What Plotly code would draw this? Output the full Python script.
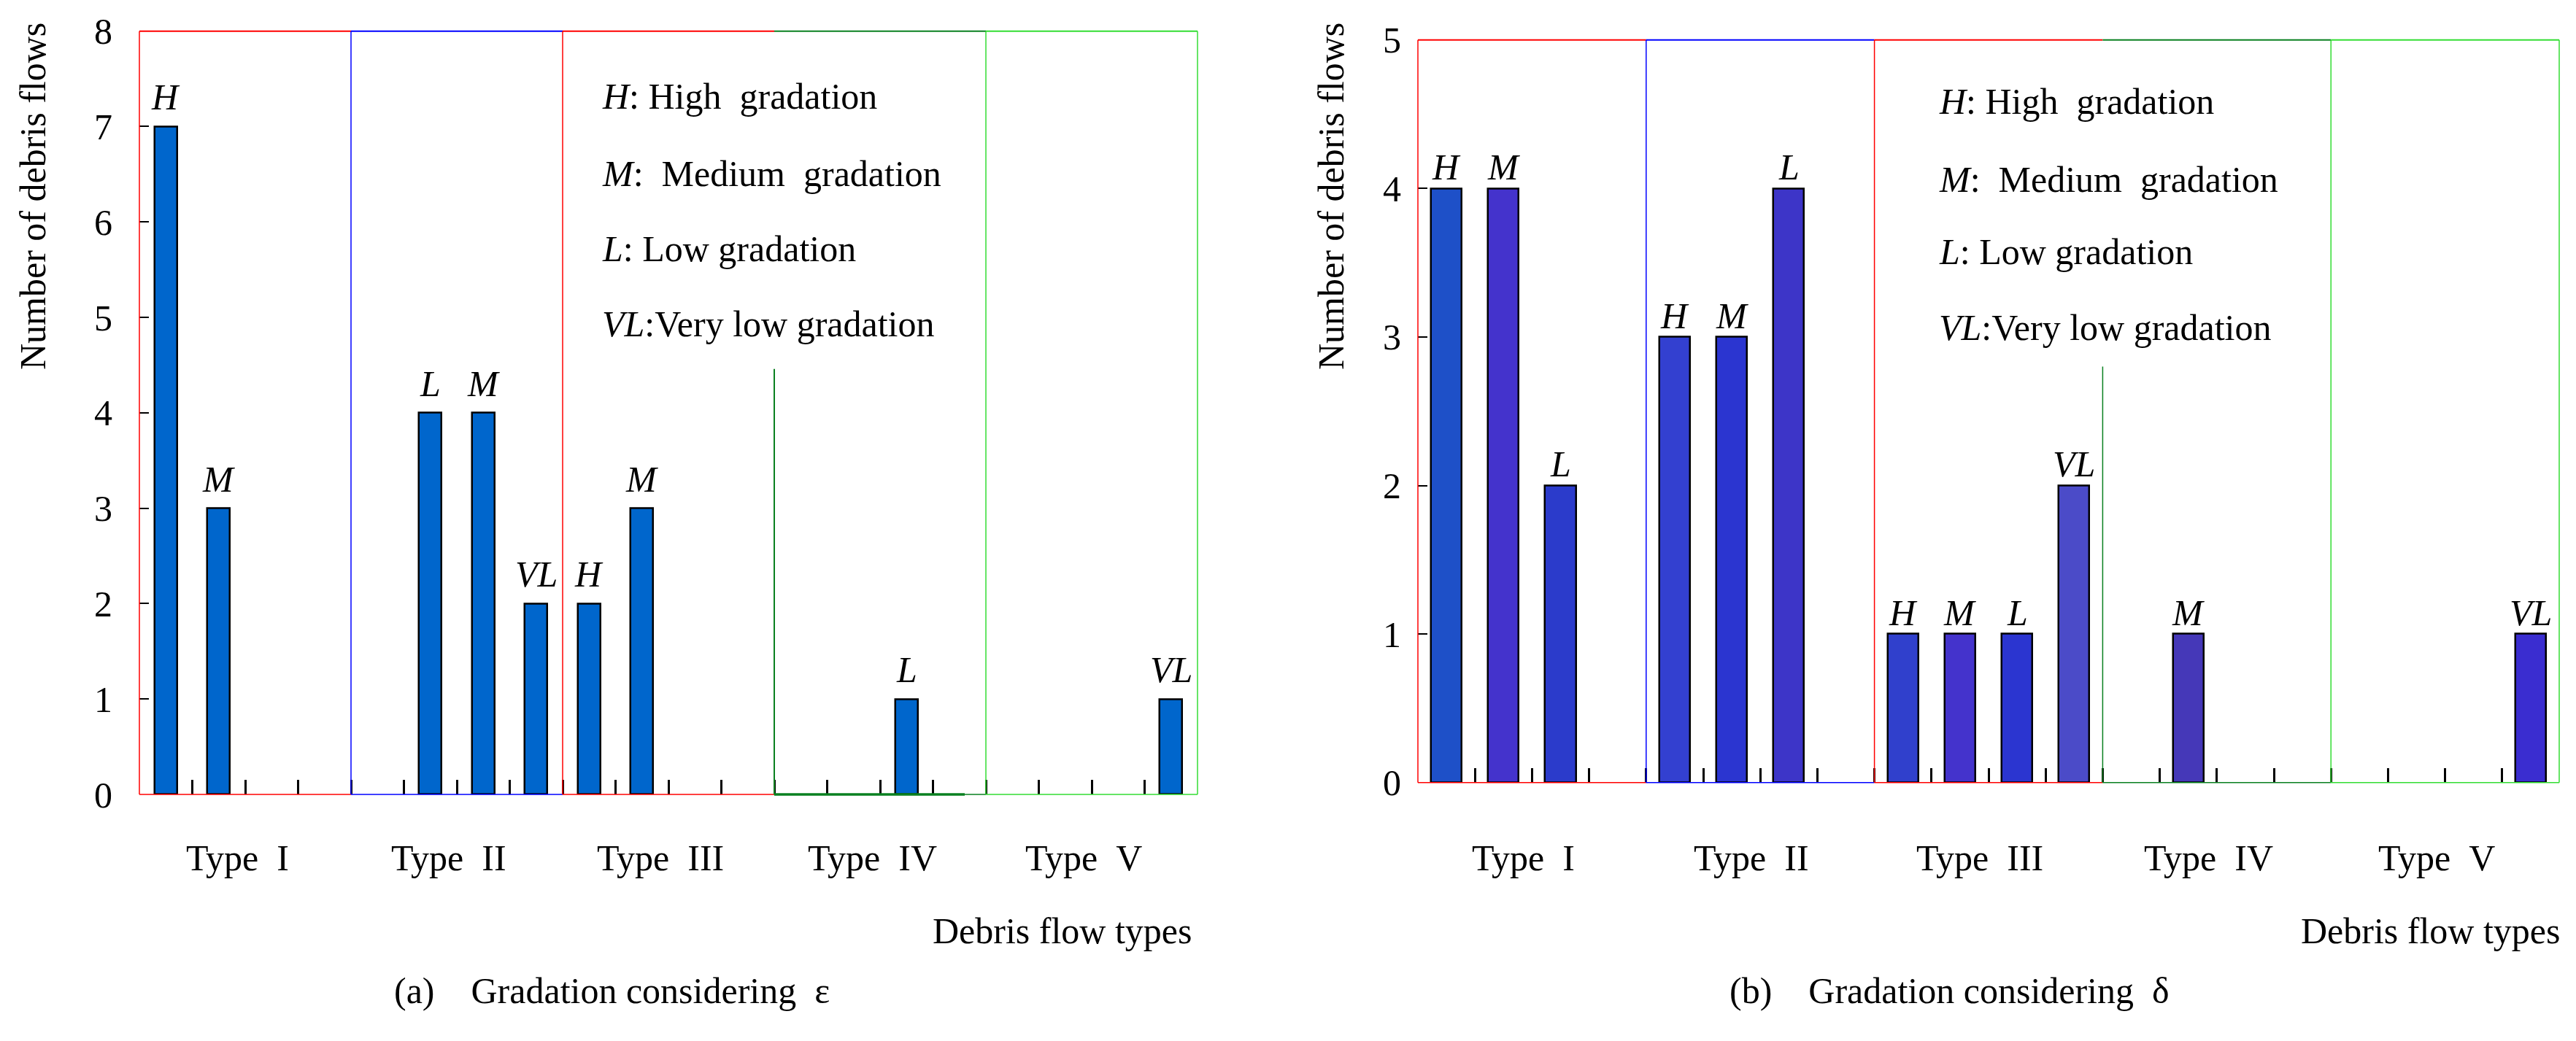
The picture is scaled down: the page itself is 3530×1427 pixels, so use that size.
import plotly.graph_objects as go

# %% data
type_names = ["Type\u00a0\u00a0I", "Type\u00a0\u00a0II", "Type\u00a0\u00a0III", "Type\u00a0\u00a0IV", "Type\u00a0\u00a0V"]
slots_per_type = 4

# (a) gradation considering epsilon: 4 slots per type
eps_counts = [7, 3, 0, 0,
              0, 4, 4, 2,
              2, 3, 0, 0,
              0, 0, 1, 0,
              0, 0, 0, 1]
eps_grades = ["H", "M", "", "",
              "", "L", "M", "VL",
              "H", "M", "", "",
              "", "", "L", "",
              "", "", "", "VL"]

# (b) gradation considering delta
delta_counts = [4, 4, 2, 0,
                3, 3, 4, 0,
                1, 1, 1, 2,
                0, 1, 0, 0,
                0, 0, 0, 1]
delta_grades = ["H", "M", "L", "",
                "H", "M", "L", "",
                "H", "M", "L", "VL",
                "", "M", "", "",
                "", "", "", "VL"]

legend_lines = ["<i>H</i>: High\u00a0 gradation",
                "<i>M</i>:\u00a0 Medium\u00a0 gradation",
                "<i>L</i>: Low gradation",
                "<i>VL</i>:Very low gradation"]

y_title = "Number of debris flows"
x_title = "Debris flow types"
captions = ["(a)\u00a0\u00a0\u00a0 Gradation considering\u00a0 ε",
            "(b)\u00a0\u00a0\u00a0 Gradation considering\u00a0 δ"]

# %% layout helpers (page has 8px body margin)
W, H, OFF = 3514, 1411, 8
FONT = "Liberation Serif"


def px(X):
    return (X - OFF) / W


def py(Y):
    return 1 - (Y - OFF) / H


n_slots = len(eps_counts)
panels = [
    dict(x0=px(191), x1=px(1641), y0=py(1089), y1=py(42.7), ymax=8,
         xa="x", ya="y", title_x=45, legend_x=823,
         legend_y=[132, 238, 341, 444], standoff=36,
         bar_w=0.43, label_shift=10, caption_x=838, x_title_r=1636),
    dict(x0=px(1943), x1=px(3507), y0=py(1072.7), y1=py(54.7), ymax=5,
         xa="x2", ya="y2", title_x=1824, legend_x=2655,
         legend_y=[139, 246, 345, 449], standoff=22,
         bar_w=0.54, label_shift=-1, caption_x=2671, x_title_r=3511),
]


def to_paper(p, s, v):
    return (p["x0"] + s / n_slots * (p["x1"] - p["x0"]),
            p["y0"] + v / p["ymax"] * (p["y1"] - p["y0"]))


fig = go.Figure()


def seg(p, s0, v0, s1, v1, color, width=1.5):
    xa, ya = to_paper(p, s0, v0)
    xb, yb = to_paper(p, s1, v1)
    fig.add_shape(type="line", xref="paper", yref="paper",
                  x0=xa, y0=ya, x1=xb, y1=yb,
                  line=dict(color=color, width=width), layer="above")


RED, BLUE, DGREEN, LGREEN = "#ff0000", "#0000ff", "#0a8020", "#33dd33"

# %% bars
eps_color = "#0066cc"
delta_colors = ["#1e50c8", "#4433cc", "#2b3bcb", None,
                "#3340d0", "#2b35d0", "#3d35c8", None,
                "#3040cc", "#4433cc", "#2b35d0", "#4b4bc8",
                None, "#4538b8", None, None,
                None, None, None, "#3a2dd0"]

for p, counts, grades, colors in [(panels[0], eps_counts, eps_grades, [eps_color] * n_slots),
                                  (panels[1], delta_counts, delta_grades, delta_colors)]:
    xs = [i + 0.5 for i, v in enumerate(counts) if v > 0]
    ys = [v for v in counts if v > 0]
    cs = [colors[i] for i, v in enumerate(counts) if v > 0]
    fig.add_trace(go.Bar(x=xs, y=ys, width=p["bar_w"], xaxis=p["xa"], yaxis=p["ya"],
                         marker=dict(color=cs, line=dict(color="black", width=2.5)),
                         hoverinfo="skip"))
    for x, y, g in zip(xs, ys, [grades[i] for i, v in enumerate(counts) if v > 0]):
        fig.add_annotation(x=x, y=y, xref=p["xa"], yref=p["ya"], text="<i>" + g + "</i>",
                           showarrow=False, xanchor="center", yanchor="bottom",
                           yshift=p["label_shift"], font=dict(family=FONT, size=50))

    # type labels under each block
    for k, name in enumerate(type_names):
        xc, _ = to_paper(p, k * slots_per_type + 2 - 0.15, 0)
        fig.add_annotation(x=xc, y=py(1176), xref="paper", yref="paper", text=name,
                           showarrow=False, xanchor="center", yanchor="middle",
                           font=dict(family=FONT, size=50))

    # legend text block
    for txt, yy in zip(legend_lines, p["legend_y"]):
        fig.add_annotation(x=px(p["legend_x"]), y=py(yy), xref="paper", yref="paper", text=txt,
                           showarrow=False, xanchor="left", yanchor="middle",
                           font=dict(family=FONT, size=50))

    fig.add_annotation(x=px(p["title_x"]), y=py(29), xref="paper", yref="paper", text=y_title,
                       textangle=-90, showarrow=False, xanchor="center", yanchor="top",
                       font=dict(family=FONT, size=50))
    fig.add_annotation(x=px(p["x_title_r"]), y=py(1276), xref="paper", yref="paper", text=x_title,
                       showarrow=False, xanchor="right", yanchor="middle",
                       font=dict(family=FONT, size=50))

for p, cap in zip(panels, captions):
    fig.add_annotation(x=px(p["caption_x"]), y=py(1358), xref="paper", yref="paper", text=cap,
                       showarrow=False, xanchor="center", yanchor="middle",
                       font=dict(family=FONT, size=50))

# %% coloured type boxes
L, R = panels
top8, top5 = 8, 5
# (a)
seg(L, 0, 0, 0, top8, RED); seg(L, 0, top8, 4, top8, RED, 2); seg(L, 0, 0, 4, 0, RED)
seg(L, 4, 0, 4, top8, BLUE); seg(L, 4, top8, 8, top8, BLUE, 2); seg(L, 4, 0, 8, 0, BLUE)
seg(L, 8, 0, 8, top8, RED); seg(L, 8, top8, 12, top8, RED, 2); seg(L, 8, 0, 12, 0, RED)
seg(L, 12, 0, 12, 4.46, DGREEN, 2); seg(L, 12, top8, 16, top8, DGREEN, 2)
seg(L, 12, 0, 15.6, 0, DGREEN, 3.5); seg(L, 15.6, 0, 16, 0, DGREEN)
seg(L, 16, 0, 16, top8, LGREEN); seg(L, 16, top8, 20, top8, LGREEN, 2)
seg(L, 20, 0, 20, top8, LGREEN); seg(L, 16, 0, 20, 0, LGREEN)
# (b)
seg(R, 0, 0, 0, top5, RED); seg(R, 0, top5, 4, top5, RED, 2); seg(R, 0, 0, 4, 0, RED)
seg(R, 4, 0, 4, top5, BLUE); seg(R, 4, top5, 8, top5, BLUE, 2); seg(R, 4, 0, 8, 0, BLUE)
seg(R, 8, 0, 8, top5, RED); seg(R, 8, top5, 12, top5, RED, 2); seg(R, 8, 0, 12, 0, RED)
seg(R, 12, 0, 12, 2.8, DGREEN); seg(R, 12, top5, 16, top5, DGREEN, 2); seg(R, 12, 0, 16, 0, DGREEN)
seg(R, 16, 0, 16, top5, LGREEN); seg(R, 16, top5, 20, top5, LGREEN, 2)
seg(R, 20, 0, 20, top5, LGREEN); seg(R, 16, 0, 20, 0, LGREEN)

# %% axes
axis_common = dict(showgrid=False, zeroline=False, showline=False, automargin=False)
fig.update_layout(
    width=W, height=H,
    margin=dict(l=0, r=0, t=0, b=0, autoexpand=False),
    plot_bgcolor="white", paper_bgcolor="white",
    showlegend=False, bargap=0,
    font=dict(family=FONT, size=50, color="black"),
    xaxis=dict(domain=[L["x0"], L["x1"]], range=[0, n_slots], anchor="y",
               tickvals=list(range(n_slots + 1)), ticks="inside", ticklen=20, tickwidth=3,
               tickcolor="black", showticklabels=False, **axis_common),
    yaxis=dict(domain=[L["y0"], L["y1"]], range=[0, 8], anchor="x",
               tickvals=list(range(9)), ticks="inside", ticklen=13, tickwidth=2,
               tickcolor="black", ticklabelstandoff=L["standoff"],
               tickfont=dict(family=FONT, size=50), **axis_common),
    xaxis2=dict(domain=[R["x0"], R["x1"]], range=[0, n_slots], anchor="y2",
                tickvals=list(range(n_slots + 1)), ticks="inside", ticklen=20, tickwidth=3,
                tickcolor="black", showticklabels=False, **axis_common),
    yaxis2=dict(domain=[R["y0"], R["y1"]], range=[0, 5], anchor="x2",
                tickvals=list(range(6)), ticks="inside", ticklen=13, tickwidth=2,
                tickcolor="black", ticklabelstandoff=R["standoff"],
                tickfont=dict(family=FONT, size=50), **axis_common),
)

fig.write_html("out.html")
